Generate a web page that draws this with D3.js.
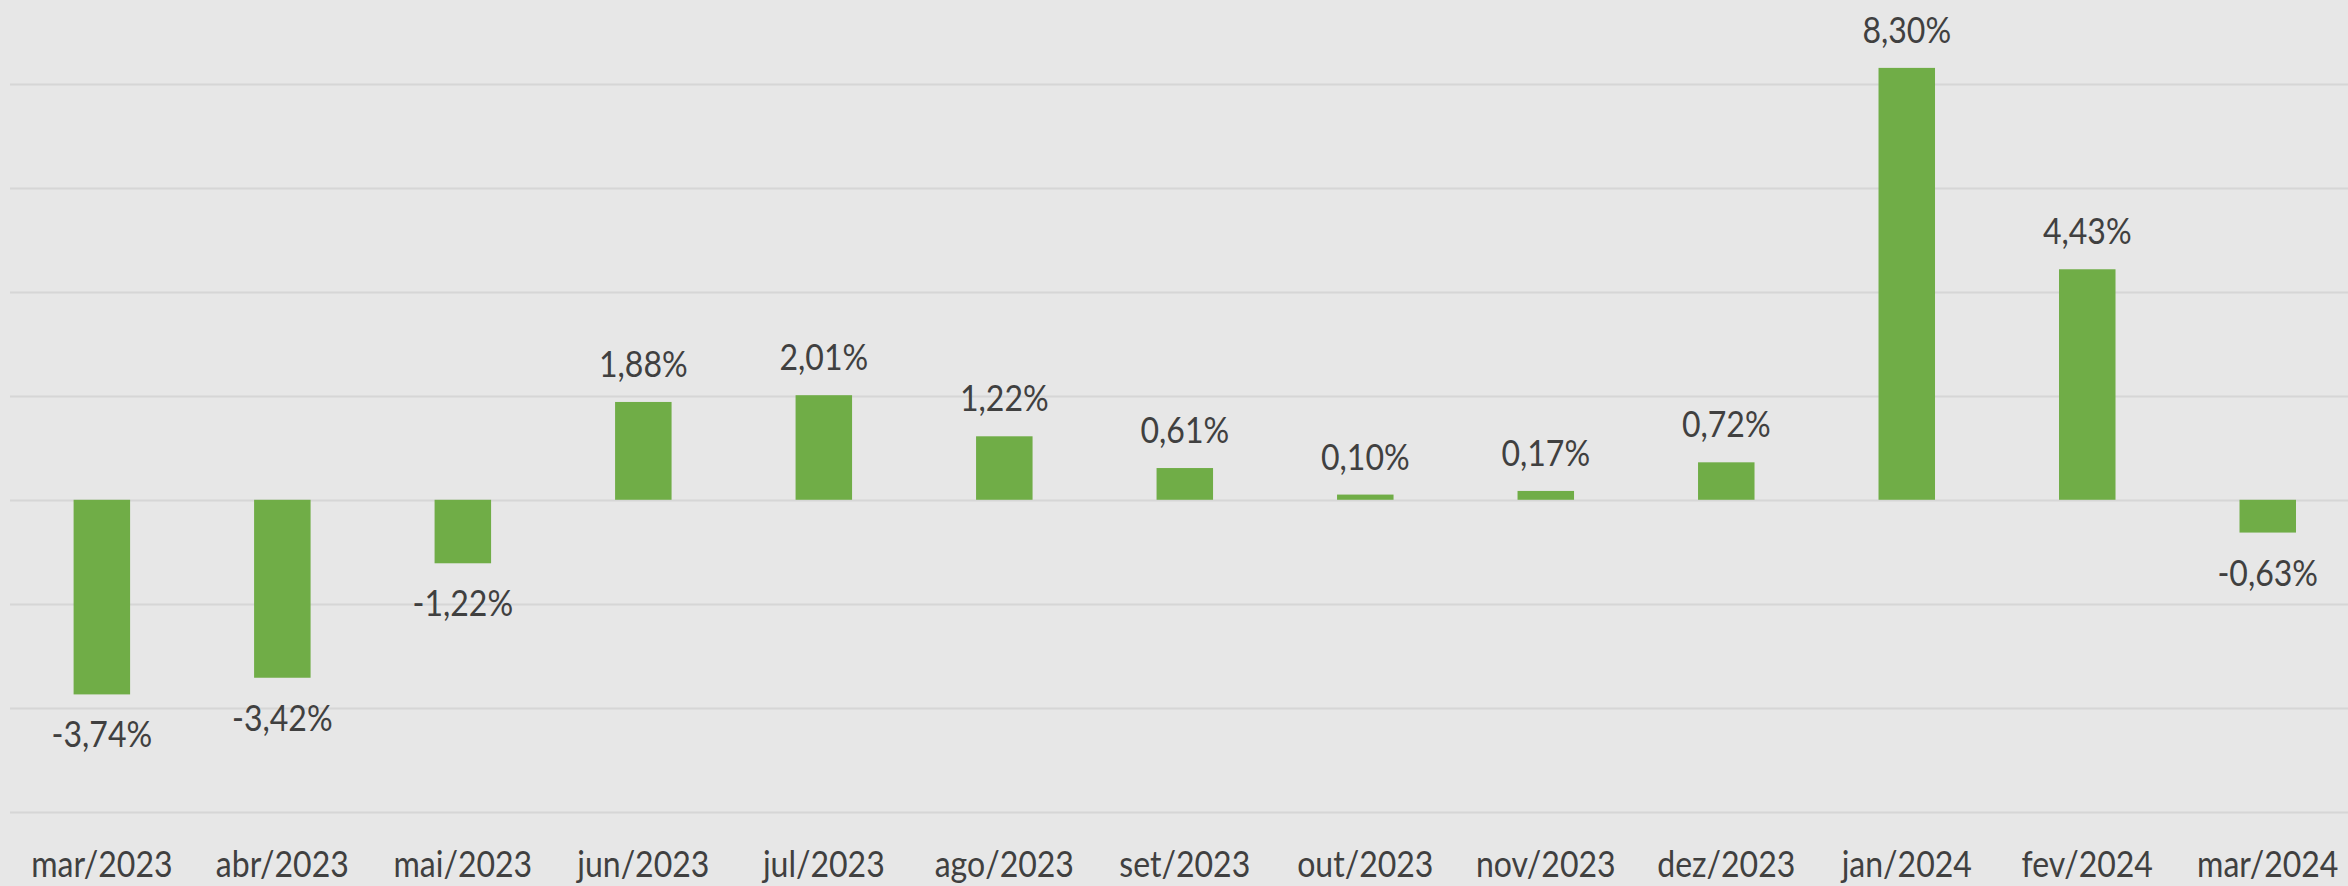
<!DOCTYPE html>
<html>
<head>
<meta charset="utf-8">
<script src="https://cdn.jsdelivr.net/npm/d3@7"></script>
<style>
  body { margin: 0; background: #e7e7e7; }
  svg { display: block; }
  text { font-family: Lato, "Open Sans", sans-serif; fill: #404040; }
</style>
</head>
<body>
<svg width="2348" height="886"></svg>
<script>
// Données
const mois = ["mar/2023", "abr/2023", "mai/2023", "jun/2023", "jul/2023", "ago/2023", "set/2023",
              "out/2023", "nov/2023", "dez/2023", "jan/2024", "fev/2024", "mar/2024"];
const variacao = [-3.74, -3.42, -1.22, 1.88, 2.01, 1.22, 0.61, 0.10, 0.17, 0.72, 8.30, 4.43, -0.63];
const gradeY = [8, 6, 4, 2, 0, -2, -4, -6];

let svg = d3.select("svg");
svg.append("rect").attr("width", 2348).attr("height", 886).attr("fill", "#e7e7e7");

// Echelles
let x = d3.scaleBand().domain(mois).range([11.6, 2358]).paddingInner(0.687).paddingOuter(0.3435);
let y = d3.scaleLinear().domain([-6, 8]).range([812, 83.5]);

// le texte de la référence est un peu étroit
let etroit = 0.89;

// Lignes de grille
svg.append("g").selectAll("line").data(gradeY).enter().append("line")
    .attr("x1", 10).attr("x2", 2348)
    .attr("y1", d => Math.round(y(d)) + 0.5).attr("y2", d => Math.round(y(d)) + 0.5)
    .attr("stroke", "#d6d6d6").attr("stroke-width", 2);

// Barres
let donnees = mois.map((m, i) => ({ mois: m, v: variacao[i] }));
svg.append("g").selectAll("rect").data(donnees).enter().append("rect")
    .attr("x", d => x(d.mois))
    .attr("width", x.bandwidth())
    .attr("y", d => Math.min(y(d.v), y(0)))
    .attr("height", d => Math.abs(y(d.v) - y(0)))
    .attr("fill", "#70ad47");

// Etiquettes des valeurs
let fmt = v => v.toFixed(2).replace(".", ",") + "%";
svg.append("g").selectAll("text").data(donnees).enter().append("text")
    .attr("transform", d => {
        let cx = x(d.mois) + x.bandwidth() / 2;
        let cy = d.v >= 0 ? y(d.v) - 25 : y(d.v) + 53;
        return `translate(${cx},${cy}) scale(${etroit},1)`;
    })
    .attr("text-anchor", "middle")
    .style("font-size", "36px")
    .text(d => fmt(d.v));

// Axe des catégories
let axe = svg.append("g").attr("transform", "translate(0,877)")
    .call(d3.axisBottom(x).tickSize(0).tickPadding(0));
axe.select(".domain").remove();
axe.selectAll("text")
    .attr("y", 0)
    .attr("dy", 0)
    .attr("transform", `scale(${etroit},1)`)
    .style("font-size", "36px")
    .style("font-family", "Lato, 'Open Sans', sans-serif")
    .attr("fill", "#404040");
</script>
</body>
</html>
